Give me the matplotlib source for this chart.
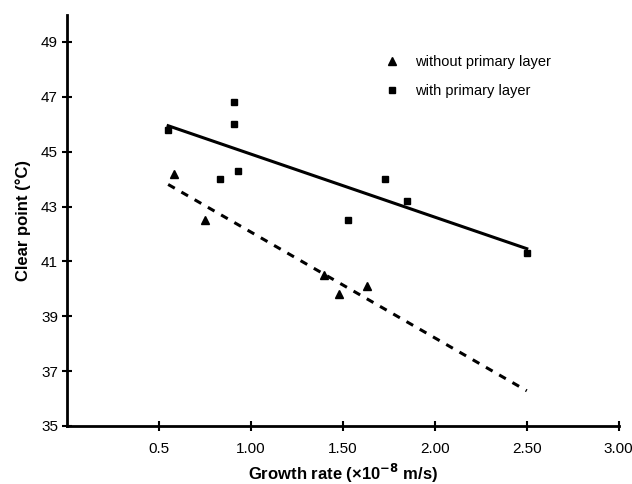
import numpy as np
import matplotlib
matplotlib.use('Agg')
import matplotlib.pyplot as plt

plt.rcParams['font.family'] = ['Liberation Sans', 'DejaVu Sans']

# 数据：无底层 / 有底层
rate_without = [0.58, 0.75, 1.40, 1.48, 1.63]
clear_without = [44.2, 42.5, 40.5, 39.8, 40.1]

rate_with = [0.55, 0.91, 0.91, 0.83, 0.93, 1.73, 1.85, 1.53, 2.50]
clear_with = [45.8, 46.8, 46.0, 44.0, 44.3, 44.0, 43.2, 42.5, 41.3]

x_ticks = [0.5, 1.0, 1.5, 2.0, 2.5, 3.0]
x_tick_labels = ['0.5', '1.00', '1.50', '2.00', '2.50', '3.00']
y_ticks = [35, 37, 39, 41, 43, 45, 47, 49]

# 线性拟合
fit_x = np.array([0.55, 2.50])
k1, b1 = np.polyfit(rate_without, clear_without, 1)
k2, b2 = np.polyfit(rate_with, clear_with, 1)

fig = plt.figure(figsize=(6.32, 4.84), dpi=100)
ax = fig.add_axes([0.106, 0.120, 0.873, 0.850])

ax.plot(rate_without, clear_without, '^', color='black', markersize=5.5,
        label='without primary layer')
ax.plot(rate_with, clear_with, 's', color='black', markersize=5,
        label='with primary layer')
ax.plot(fit_x, k1 * fit_x + b1, '--', color='black', linewidth=2.2,
        dashes=(2.5, 2.5))
ax.plot(fit_x, k2 * fit_x + b2, '-', color='black', linewidth=2.2)

ax.set_xlim(0, 3.0)
ax.set_ylim(35, 50)
ax.set_xticks(x_ticks)
ax.set_xticklabels(x_tick_labels)
ax.set_yticks(y_ticks)

for s in ['top', 'right']:
    ax.spines[s].set_visible(False)
for s in ['left', 'bottom']:
    ax.spines[s].set_linewidth(2)
ax.tick_params(direction='inout', length=7, width=1.5, labelsize=11)
ax.tick_params(axis='x', pad=8)
ax.tick_params(axis='y', pad=3)

ax.set_xlabel('Growth rate (×10$^{\\mathbf{-8}}$ m/s)', fontsize=12,
              fontweight='bold', labelpad=4)
ax.set_ylabel('Clear point (°C)', fontsize=12, fontweight='bold', labelpad=7)

ax.legend(loc='upper left', bbox_to_anchor=(0.576, 0.902), frameon=False,
          borderaxespad=0, borderpad=0,
          fontsize=10.5, handlelength=1.0, handletextpad=1.1, labelspacing=1.05)

fig.savefig('out.png', dpi=100)
